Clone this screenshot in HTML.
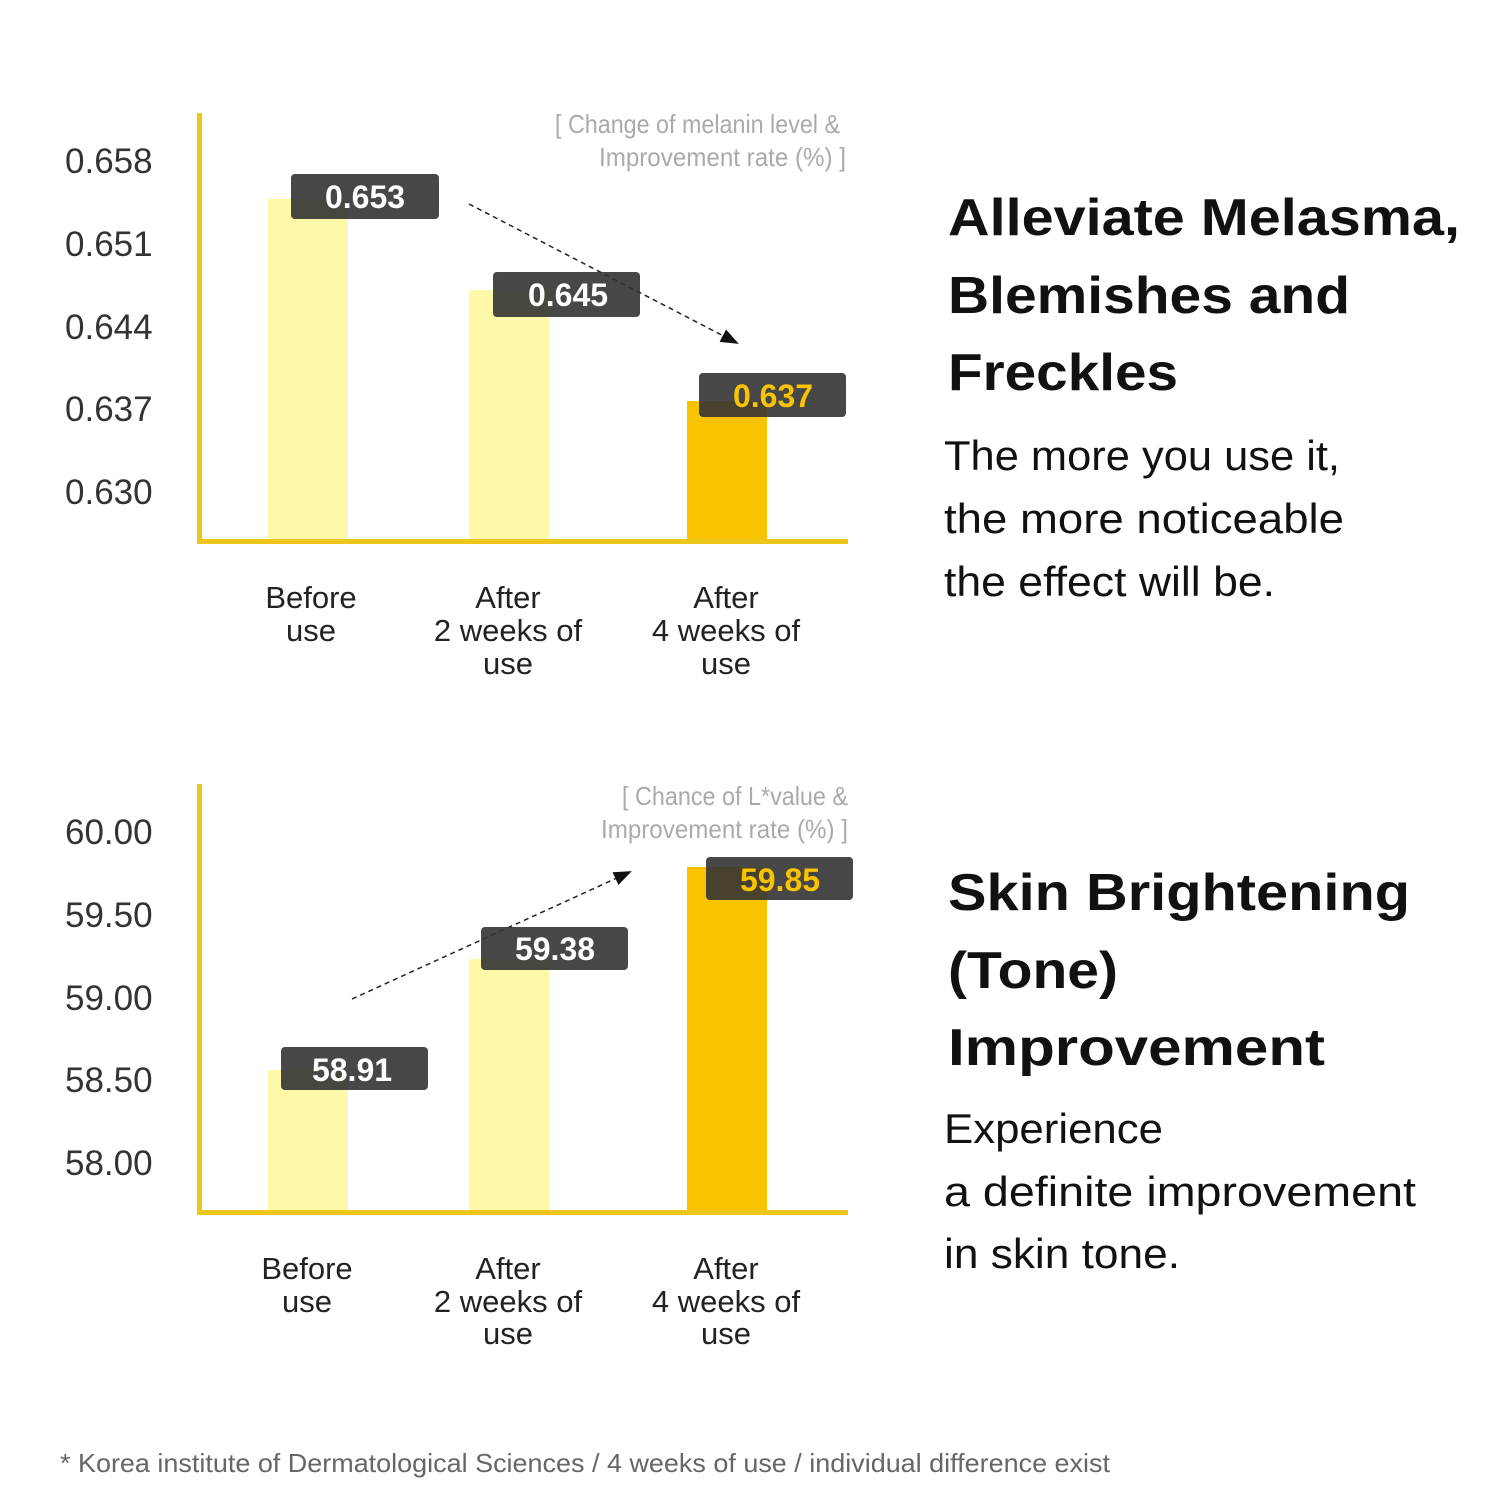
<!DOCTYPE html>
<html><head><meta charset="utf-8"><style>
html,body{margin:0;padding:0;background:#fff;}
svg{display:block;font-family:"Liberation Sans",sans-serif;}
</style></head><body>
<svg width="1500" height="1500" viewBox="0 0 1500 1500" xmlns="http://www.w3.org/2000/svg">
<defs><marker id="ah" markerWidth="20" markerHeight="16" refX="16" refY="7" orient="auto" markerUnits="userSpaceOnUse"><path d="M0,0 L18,7 L0,14 z" fill="#111"/></marker></defs>
<g font-size="35" fill="#333">
<text x="65" y="173">0.658</text><text x="65" y="256">0.651</text><text x="65" y="339">0.644</text><text x="65" y="421">0.637</text><text x="65" y="504">0.630</text>
<text x="65" y="844">60.00</text><text x="65" y="927">59.50</text><text x="65" y="1010">59.00</text><text x="65" y="1092">58.50</text><text x="65" y="1175">58.00</text>
</g>
<!-- chart 1 -->
<rect x="268" y="199" width="80" height="342" fill="#fef9a8"/>
<rect x="469" y="290" width="80" height="251" fill="#fef9a8"/>
<rect x="687" y="401" width="80" height="140" fill="#f9c300"/>
<rect x="197" y="113" width="5" height="430" fill="#eec51a"/>
<rect x="197" y="539" width="651" height="5" fill="#eec51a"/>
<line x1="469" y1="204" x2="737" y2="343" stroke="#222" stroke-width="1.5" stroke-dasharray="5,4" marker-end="url(#ah)"/>
<g fill="#333" fill-opacity="0.9">
<rect x="291" y="174" width="148" height="45" rx="4"/>
<rect x="493" y="272" width="147" height="45" rx="4"/>
<rect x="699" y="373" width="147" height="44" rx="4"/>
</g>
<g font-size="32" font-weight="bold" text-anchor="middle">
<text x="365" y="208" fill="#fff">0.653</text>
<text x="568" y="306" fill="#fff">0.645</text>
<text x="773" y="407" fill="#f9c300">0.637</text>
</g>
<g font-size="26" fill="#aaa">
<text x="555" y="133" textLength="285" lengthAdjust="spacingAndGlyphs">[ Change of melanin level &amp;</text>
<text x="599" y="166" textLength="247" lengthAdjust="spacingAndGlyphs">Improvement rate (%) ]</text>
<text x="622" y="805" textLength="226" lengthAdjust="spacingAndGlyphs">[ Chance of L*value &amp;</text>
<text x="601" y="838" textLength="247" lengthAdjust="spacingAndGlyphs">Improvement rate (%) ]</text>
</g>
<g font-size="31" fill="#222" text-anchor="middle">
<text x="311" y="608">Before</text><text x="311" y="641">use</text>
<text x="508" y="608">After</text><text x="508" y="641">2 weeks of</text><text x="508" y="674">use</text>
<text x="726" y="608">After</text><text x="726" y="641">4 weeks of</text><text x="726" y="674">use</text>
<text x="307" y="1279">Before</text><text x="307" y="1312">use</text>
<text x="508" y="1279">After</text><text x="508" y="1312">2 weeks of</text><text x="508" y="1344">use</text>
<text x="726" y="1279">After</text><text x="726" y="1312">4 weeks of</text><text x="726" y="1344">use</text>
</g>
<!-- chart 2 -->
<rect x="268" y="1070" width="80" height="141" fill="#fef9a8"/>
<rect x="469" y="959" width="80" height="252" fill="#fef9a8"/>
<rect x="687" y="867" width="80" height="344" fill="#f9c300"/>
<rect x="197" y="784" width="5" height="430" fill="#eec51a"/>
<rect x="197" y="1210" width="651" height="5" fill="#eec51a"/>
<line x1="352" y1="999" x2="630" y2="872" stroke="#222" stroke-width="1.5" stroke-dasharray="5,4" marker-end="url(#ah)"/>
<g fill="#333" fill-opacity="0.9">
<rect x="281" y="1047" width="147" height="43" rx="4"/>
<rect x="481" y="927" width="147" height="43" rx="4"/>
<rect x="706" y="857" width="147" height="43" rx="4"/>
</g>
<g font-size="32" font-weight="bold" text-anchor="middle">
<text x="352" y="1081" fill="#fff">58.91</text>
<text x="555" y="960" fill="#fff">59.38</text>
<text x="780" y="891" fill="#f9c300">59.85</text>
</g>
<!-- right text -->
<g font-size="52" font-weight="bold" fill="#111">
<text x="948" y="235" textLength="512" lengthAdjust="spacingAndGlyphs">Alleviate Melasma,</text>
<text x="948" y="313" textLength="402" lengthAdjust="spacingAndGlyphs">Blemishes and</text>
<text x="948" y="390" textLength="230" lengthAdjust="spacingAndGlyphs">Freckles</text>
<text x="948" y="910" textLength="462" lengthAdjust="spacingAndGlyphs">Skin Brightening</text>
<text x="948" y="988" textLength="170" lengthAdjust="spacingAndGlyphs">(Tone)</text>
<text x="948" y="1065" textLength="377" lengthAdjust="spacingAndGlyphs">Improvement</text>
</g>
<g font-size="42" fill="#111">
<text x="944" y="470" textLength="396" lengthAdjust="spacingAndGlyphs">The more you use it,</text>
<text x="944" y="533" textLength="400" lengthAdjust="spacingAndGlyphs">the more noticeable</text>
<text x="944" y="596" textLength="331" lengthAdjust="spacingAndGlyphs">the effect will be.</text>
<text x="944" y="1143" textLength="219" lengthAdjust="spacingAndGlyphs">Experience</text>
<text x="944" y="1206" textLength="472" lengthAdjust="spacingAndGlyphs">a definite improvement</text>
<text x="944" y="1268" textLength="236" lengthAdjust="spacingAndGlyphs">in skin tone.</text>
</g>
<text x="60" y="1472" font-size="26" fill="#666" textLength="1050" lengthAdjust="spacingAndGlyphs">* Korea institute of Dermatological Sciences / 4 weeks of use / individual difference exist</text>
</svg>
</body></html>
